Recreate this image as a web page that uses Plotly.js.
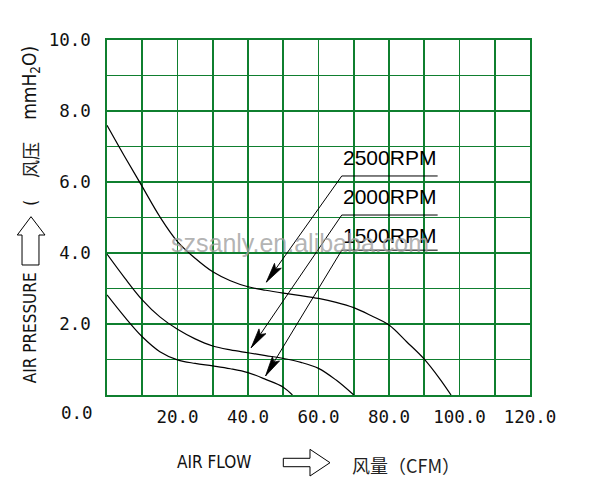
<!DOCTYPE html>
<html>
<head>
<meta charset="utf-8">
<script src="https://cdn.plot.ly/plotly-3.0.1.min.js"></script>
<style>html,body{margin:0;padding:0;background:#fff;}#chart{width:598px;height:488px;}</style>
</head>
<body>
<div id="chart"></div>
<script>
// ---- data ----
const rpm2500X = [0, 5, 10, 15, 20, 25, 30, 35, 40, 45, 50, 55, 60, 65, 70, 75, 80, 85, 90, 94.3, 97.6];
const rpm2500Y = [7.6, 6.72, 5.87, 5.02, 4.32, 3.85, 3.47, 3.22, 3.05, 2.95, 2.87, 2.80, 2.72, 2.61, 2.46, 2.23, 1.97, 1.50, 1.01, 0.47, 0];
const rpm2000X = [0, 5, 10, 15, 20, 25, 30, 35, 40, 45, 50, 55, 60, 65, 70];
const rpm2000Y = [3.97, 3.3, 2.68, 2.2, 1.85, 1.58, 1.38, 1.27, 1.19, 1.11, 1.03, 0.92, 0.75, 0.42, 0];
const rpm1500X = [0, 5, 10, 15, 20, 25, 30, 35, 40, 45, 50, 52.6];
const rpm1500Y = [2.82, 2.2, 1.64, 1.22, 0.99, 0.89, 0.82, 0.74, 0.63, 0.44, 0.22, 0];
const rpmLabels = ['2500RPM', '2000RPM', '1500RPM'];
const xTickVals = [20, 40, 60, 80, 100, 120];
const xTickText = ['20.0', '40.0', '60.0', '80.0', '100.0', '120.0'];
const yTickVals = [2, 4, 6, 8, 10];
const yTickText = ['2.0', '4.0', '6.0', '8.0', '10.0'];
const originLabel = '0.0';
const xTitleParts = ['AIR FLOW', '风量（CFM）'];
const yTitleParts = ['AIR PRESSURE', '(', '风压', 'mmH<sub>2</sub>O)'];
const watermark = 'szsanly.en.alibaba.com';

// ---- styles ----
const GREEN = '#0f7f2f';
const tickFont = {family: 'DejaVu Sans Mono, monospace', size: 17.5, color: '#111'};
const narrowFont = {family: 'Liberation Sans Narrow, DejaVu Sans Condensed, Arial Narrow, sans-serif', size: 17, color: '#111'};
const cjkFont = {family: 'Noto Sans CJK SC, sans-serif', size: 18, color: '#222'};

const lineStyle = {color: '#000', width: 1.2, shape: 'spline', smoothing: 1};
const traces = [
  {x: rpm2500X, y: rpm2500Y, name: rpmLabels[0], mode: 'lines', line: lineStyle},
  {x: rpm2000X, y: rpm2000Y, name: rpmLabels[1], mode: 'lines', line: lineStyle},
  {x: rpm1500X, y: rpm1500Y, name: rpmLabels[2], mode: 'lines', line: lineStyle}
];

// ---- label placement (layout only) ----
const X_RANGE = [0, 120], Y_RANGE = [0, 10];
const PLOT_W = 423, PLOT_H = 355;
const pxPerX = PLOT_W / (X_RANGE[1] - X_RANGE[0]);
const pxPerY = PLOT_H / (Y_RANGE[1] - Y_RANGE[0]);
const labelPos = [[80.1, 6.69], [80.1, 5.58], [80.1, 4.49]];
const underlineY = [6.17, 5.07, 4.08];
const tips = [[45.2, 3.18], [40.9, 1.33], [45.0, 0.54]];
const ulX0 = 66.6, ulX1 = 93.8;

// arrowhead path built in pixel space and converted back to axis units
function arrowHead(tip, tail, len, halfW, notch) {
  const dxp = (tip[0] - tail[0]) * pxPerX, dyp = (tip[1] - tail[1]) * pxPerY;
  const d = Math.hypot(dxp, dyp);
  const ux = dxp / d, uy = dyp / d, nx = -uy, ny = ux;
  const toData = (px, py) => [tip[0] + px / pxPerX, tip[1] + py / pxPerY];
  const bx = -len * ux, by = -len * uy;
  const L = toData(bx + halfW * nx, by + halfW * ny);
  const R = toData(bx - halfW * nx, by - halfW * ny);
  const N = toData(-(len - notch) * ux, -(len - notch) * uy);
  return `M${tip[0]},${tip[1]} L${L[0]},${L[1]} L${N[0]},${N[1]} L${R[0]},${R[1]} Z`;
}

const annotations = [];
const shapes = [];
rpmLabels.forEach((lab, i) => {
  annotations.push({x: labelPos[i][0], y: labelPos[i][1], xref: 'x', yref: 'y', text: lab,
    showarrow: false, xanchor: 'center', yanchor: 'middle',
    font: {family: 'Liberation Sans, Arial, sans-serif', size: 21, color: '#000'}});
  shapes.push({type: 'line', xref: 'x', yref: 'y', x0: ulX0, y0: underlineY[i], x1: tips[i][0], y1: tips[i][1],
    line: {color: '#000', width: 1}});
  shapes.push({type: 'path', xref: 'x', yref: 'y', path: arrowHead(tips[i], [ulX0, underlineY[i]], 20, 4.2, 4),
    fillcolor: '#000', line: {color: '#000', width: 0.8}});
  shapes.push({type: 'line', xref: 'x', yref: 'y', x0: ulX0, x1: ulX1, y0: underlineY[i], y1: underlineY[i],
    line: {color: '#000', width: 1}});
});

// axis titles & origin
annotations.push({xref: 'paper', yref: 'paper', x: -0.028, y: -0.0507, text: originLabel, showarrow: false,
  xanchor: 'right', yanchor: 'middle', font: tickFont});
annotations.push({xref: 'paper', yref: 'paper', x: 0.2518, y: -0.190, text: xTitleParts[0], showarrow: false,
  xanchor: 'center', yanchor: 'middle', font: narrowFont});
annotations.push({xref: 'paper', yref: 'paper', x: 0.708, y: -0.197, text: xTitleParts[1], showarrow: false,
  xanchor: 'center', yanchor: 'middle', font: cjkFont});
annotations.push({xref: 'paper', yref: 'paper', x: -0.182, y: 0.188, text: yTitleParts[0], showarrow: false,
  textangle: -90, xanchor: 'center', yanchor: 'middle', font: narrowFont});
annotations.push({xref: 'paper', yref: 'paper', x: -0.180, y: 0.541, text: yTitleParts[1], showarrow: false,
  textangle: -90, xanchor: 'center', yanchor: 'middle', font: narrowFont});
annotations.push({xref: 'paper', yref: 'paper', x: -0.182, y: 0.662, text: yTitleParts[2], showarrow: false,
  textangle: -90, xanchor: 'center', yanchor: 'middle', font: cjkFont});
annotations.push({xref: 'paper', yref: 'paper', x: -0.180, y: 0.879, text: yTitleParts[3], showarrow: false,
  textangle: -90, xanchor: 'center', yanchor: 'middle', font: Object.assign({}, narrowFont, {size: 19})});
annotations.push({xref: 'paper', yref: 'paper', x: 0.456, y: 0.428, text: watermark, showarrow: false,
  xanchor: 'center', yanchor: 'middle',
  font: {family: 'Liberation Sans, Arial, sans-serif', size: 25, color: 'rgba(160,160,160,0.8)'}});

// hollow arrows in titles
shapes.push({type: 'path', xref: 'paper', yref: 'paper', line: {color: '#000', width: 1}, fillcolor: 'rgba(255,255,255,0)',
  path: 'M0.4168,-0.1783 L0.4799,-0.1783 L0.4799,-0.1530 L0.5272,-0.1907 L0.4799,-0.2282 L0.4799,-0.2020 L0.4168,-0.2020 Z'});
shapes.push({type: 'path', xref: 'paper', yref: 'paper', line: {color: '#000', width: 1}, fillcolor: 'rgba(255,255,255,0)',
  path: 'M-0.2009,0.3662 L-0.2009,0.4507 L-0.2121,0.4507 L-0.1797,0.5023 L-0.1466,0.4507 L-0.1608,0.4507 L-0.1608,0.3662 Z'});

const layout = {
  width: 598, height: 488,
  margin: {l: 107, r: 68, t: 40, b: 93},
  paper_bgcolor: '#fff', plot_bgcolor: '#fff',
  showlegend: false,
  xaxis: {range: X_RANGE, tickvals: xTickVals, ticktext: xTickText, tickfont: tickFont,
    showgrid: true, gridcolor: GREEN, gridwidth: 1.6, zeroline: false,
    minor: {dtick: 10, tick0: 0, showgrid: true, gridcolor: GREEN, gridwidth: 1.6, ticks: ''},
    showline: true, linecolor: GREEN, linewidth: 1.6, mirror: true, ticks: '', ticklabelstandoff: 5, fixedrange: true},
  yaxis: {range: Y_RANGE, tickvals: yTickVals, ticktext: yTickText, tickfont: tickFont,
    showgrid: true, gridcolor: GREEN, gridwidth: 1.6, zeroline: false,
    minor: {dtick: 1, tick0: 0, showgrid: true, gridcolor: GREEN, gridwidth: 1.6, ticks: ''},
    showline: true, linecolor: GREEN, linewidth: 1.6, mirror: true, ticks: '', ticklabelstandoff: 11, fixedrange: true},
  annotations: annotations,
  shapes: shapes
};

Plotly.newPlot('chart', traces, layout, {displayModeBar: false, staticPlot: true});
</script>
</body>
</html>
